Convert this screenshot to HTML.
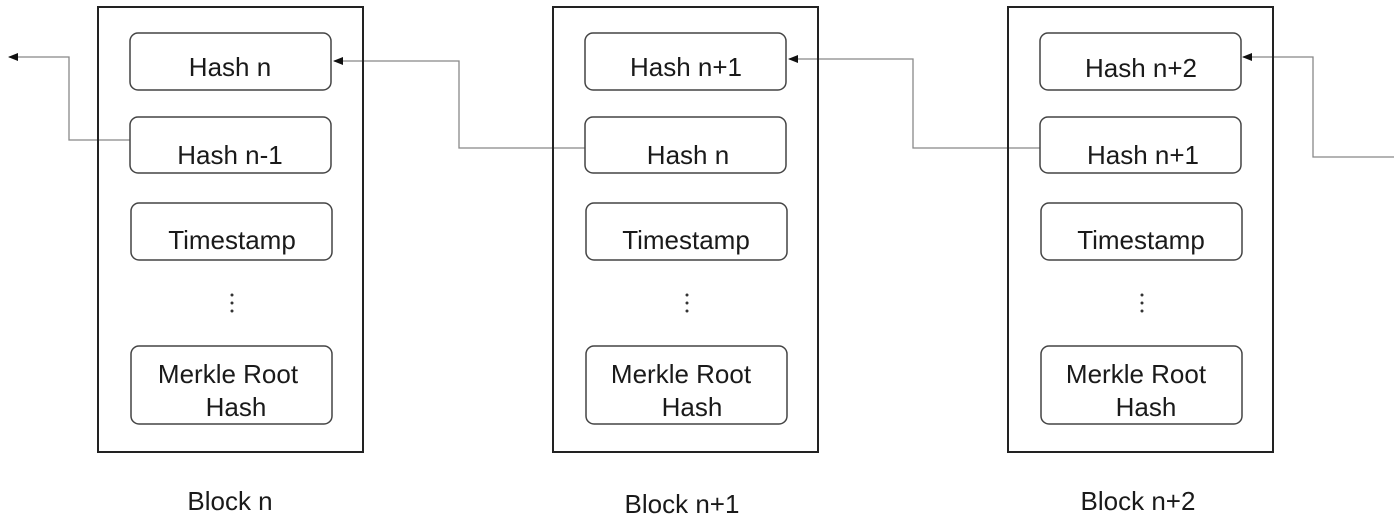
<!DOCTYPE html>
<html><head><style>
body{margin:0;width:1394px;height:519px;background:#fff;overflow:hidden}
text{font-family:"Liberation Sans",sans-serif;font-size:26px;fill:#1a1a1a;text-anchor:middle}
</style></head><body>
<svg width="1394" height="519" viewBox="0 0 1394 519">
<defs><marker id="a" markerWidth="10" markerHeight="8" refX="9" refY="4" orient="auto" markerUnits="userSpaceOnUse"><path d="M0,0L10,4L0,8z" fill="#111"/></marker></defs>
<g fill="none" stroke="#888" stroke-width="1.3">
<polyline points="130,140 69,140 69,57 9,57" marker-end="url(#a)"/>
<polyline points="585,148 459,148 459,61 334,61" marker-end="url(#a)"/>
<polyline points="1040,148 913,148 913,59 789,59" marker-end="url(#a)"/>
<polyline points="1394,157 1313,157 1313,57 1243,57" marker-end="url(#a)"/>
</g>
<g id="b">
<rect x="98" y="7" width="265" height="445" fill="none" stroke="#222" stroke-width="2"/>
<g fill="#fff" stroke="#444" stroke-width="1.5">
<rect x="130" y="33" width="201" height="57" rx="8"/>
<rect x="130" y="117" width="201" height="56" rx="8"/>
<rect x="131" y="203" width="201" height="57" rx="8"/>
<rect x="131" y="346" width="201" height="78" rx="8"/>
</g>
<g fill="#333"><circle cx="232" cy="295" r="1.5"/><circle cx="232" cy="303" r="1.5"/><circle cx="232" cy="311" r="1.5"/></g>
</g>
<use href="#b" x="455"/>
<use href="#b" x="910"/>
<text x="230" y="76">Hash n</text>
<text x="230" y="164">Hash n-1</text>
<text x="232" y="249">Timestamp</text>
<text x="228" y="383">Merkle Root</text>
<text x="236" y="416">Hash</text>
<text x="230" y="510">Block n</text>
<text x="686" y="76">Hash n+1</text>
<text x="688" y="164">Hash n</text>
<text x="686" y="249">Timestamp</text>
<text x="681" y="383">Merkle Root</text>
<text x="692" y="416">Hash</text>
<text x="682" y="513">Block n+1</text>
<text x="1141" y="77">Hash n+2</text>
<text x="1143" y="164">Hash n+1</text>
<text x="1141" y="249">Timestamp</text>
<text x="1136" y="383">Merkle Root</text>
<text x="1146" y="416">Hash</text>
<text x="1138" y="510">Block n+2</text>
</svg>
</body></html>
